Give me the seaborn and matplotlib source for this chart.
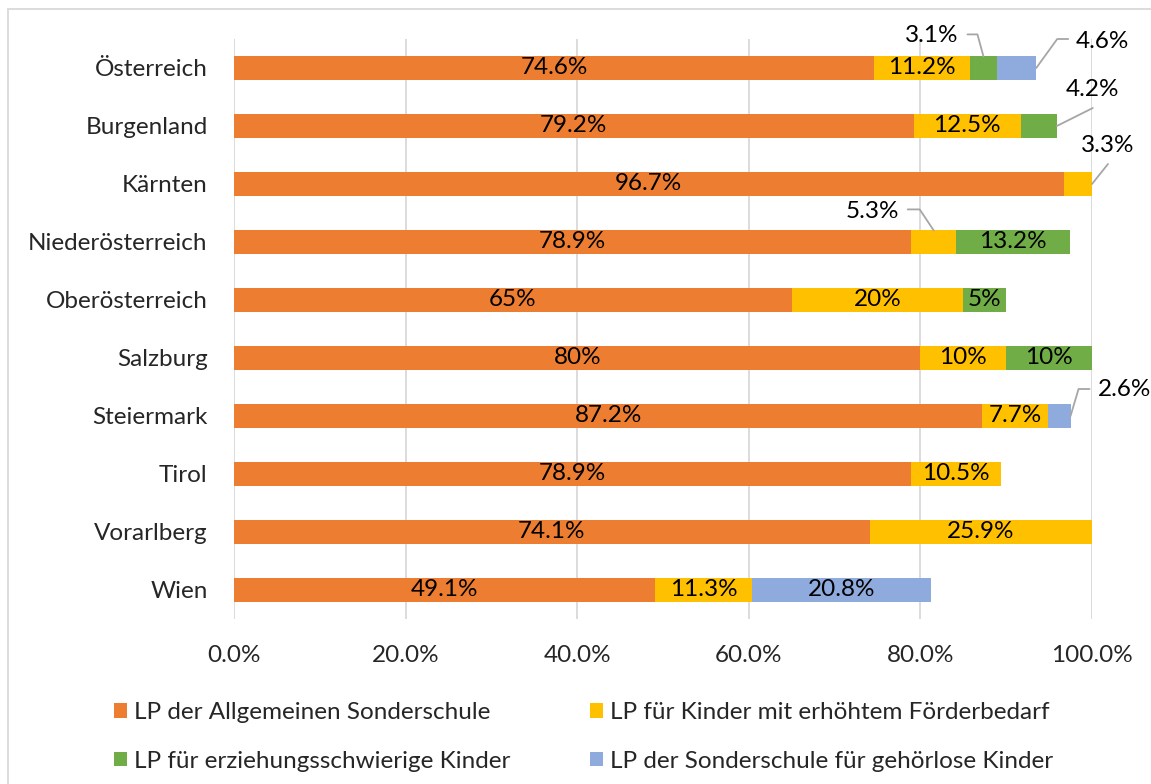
import pandas as pd
import matplotlib
matplotlib.use("Agg")
import matplotlib.pyplot as plt
from matplotlib.patches import Patch, Rectangle
import seaborn as sns

# data (percent)
regions = ["Österreich", "Burgenland", "Kärnten", "Niederösterreich", "Oberösterreich",
           "Salzburg", "Steiermark", "Tirol", "Vorarlberg", "Wien"]
series = ["LP der Allgemeinen Sonderschule",
          "LP für Kinder mit erhöhtem Förderbedarf",
          "LP für erziehungsschwierige Kinder",
          "LP der Sonderschule für gehörlose Kinder"]
allgemein = [74.6, 79.2, 96.7, 78.9, 65, 80, 87.2, 78.9, 74.1, 49.1]
foerder = [11.2, 12.5, 3.3, 5.3, 20, 10, 7.7, 10.5, 25.9, 11.3]
erziehung = [3.1, 4.2, 0, 13.2, 5, 10, 0, 0, 0, 0]
gehoerlos = [4.6, 0, 0, 0, 0, 0, 2.6, 0, 0, 20.8]
xticks = [0, 20, 40, 60, 80, 100]
xticklabels = ["0.0%", "20.0%", "40.0%", "60.0%", "80.0%", "100.0%"]

colors = ["#ED7D31", "#FFC000", "#70AD47", "#8FAADC"]

# labels placed outside with a leader line: anchor, line vertices, text offset (pixels)
callouts = {
    ("Österreich", 2): ("top", [(-6, 22), (-16, 22)], (-52, 21)),
    ("Österreich", 3): ("right", [(21, 29), (32, 29)], (66, 26)),
    ("Burgenland", 2): ("right", [(36, 18)], (36, 36)),
    ("Kärnten", 1): ("right", [(16, 20)], (16, 38)),
    ("Niederösterreich", 1): ("top", [(-14, 21), (-26, 21)], (-61, 19)),
    ("Steiermark", 3): ("right", [(8, 27), (19, 27)], (54, 26)),
}

df = pd.DataFrame({"region": regions, series[0]: allgemein, series[1]: foerder,
                   series[2]: erziehung, series[3]: gehoerlos})
vals = df[series]
cum = vals.cumsum(axis=1)

sns.set_theme(style="white")
plt.rcParams["font.family"] = ["Lato", "DejaVu Sans"]
fs = 17.5

fig = plt.figure(figsize=(11.51, 7.84), dpi=100)
ax = fig.add_axes([234 / 1151, 1 - 619 / 784, 858 / 1151, 580 / 784])

bar_w = 0.4
# stacked bars: draw cumulative totals from the last series to the first
for i in range(len(series) - 1, -1, -1):
    sns.barplot(x=cum[series[i]], y=df["region"], order=regions, orient="h",
                color=colors[i], saturation=1, width=bar_w, linewidth=0, ax=ax, zorder=2)

ax.set_xlim(0, 100)
ax.set_ylim(len(regions) - 0.5, -0.5)
ax.set_xticks(xticks)
ax.set_xticklabels(xticklabels, fontsize=fs)
ax.tick_params(axis="x", length=0, pad=19)
ax.tick_params(axis="y", length=0, pad=19, labelsize=fs)
ax.set_xlabel("")
ax.set_ylabel("")
for s in ax.spines.values():
    s.set_visible(False)
ax.grid(axis="x", color="#D9D9D9", linewidth=1.3, zorder=0)
ax.set_axisbelow(True)

# data labels
for r, reg in enumerate(regions):
    for i, ser in enumerate(series):
        v = vals.loc[r, ser]
        if v == 0:
            continue
        left = cum.loc[r, ser] - v
        txt = f"{v:g}%"
        key = (reg, i)
        if key in callouts:
            anchor, pts, toff = callouts[key]
            if anchor == "top":
                ax_x, ax_y = left + v / 2, r - bar_w / 2
            else:
                ax_x, ax_y = left + v, r
            disp = ax.transData.transform((ax_x, ax_y))
            inv = ax.transData.inverted()
            seg = [inv.transform((disp[0] + dx, disp[1] + dy)) for dx, dy in [(0, 0)] + pts]
            ax.plot([p[0] for p in seg], [p[1] for p in seg], color="#A6A6A6",
                    linewidth=1.3, clip_on=False, zorder=3)
            ax.annotate(txt, (ax_x, ax_y), xytext=toff, textcoords="offset pixels",
                        ha="center", va="center", fontsize=fs, color="black",
                        annotation_clip=False)
        else:
            ax.text(left + v / 2, r, txt, ha="center", va="center", fontsize=fs,
                    color="black", zorder=4)

handles = [Patch(facecolor=c, edgecolor="none") for c in colors]
order = [0, 2, 1, 3]
fig.legend([handles[k] for k in order], [series[k] for k in order], ncol=2,
           loc="center", bbox_to_anchor=(0.507, 0.060), frameon=False, fontsize=fs,
           handlelength=0.55, handleheight=0.55, handletextpad=0.3,
           columnspacing=3.25, labelspacing=1.12)

# chart frame
fig.add_artist(Rectangle((8 / 1151, -0.05), 1.2, 1.05 - 9 / 784, transform=fig.transFigure,
                         fill=False, edgecolor="#D9D9D9", linewidth=1.3))

fig.savefig("out.png", dpi=100)
